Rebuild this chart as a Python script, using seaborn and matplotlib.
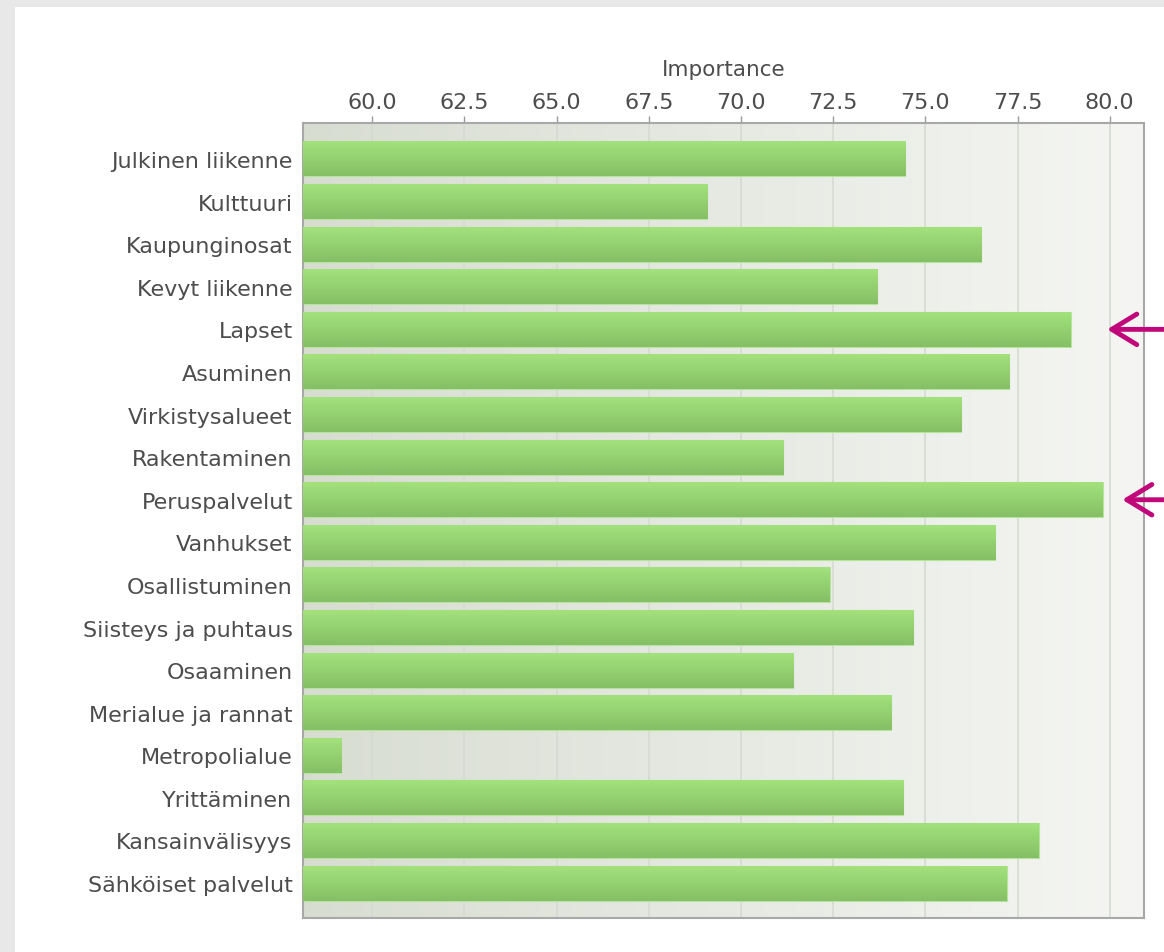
import numpy as np
import pandas as pd
import matplotlib
matplotlib.use("Agg")
import matplotlib.pyplot as plt
import seaborn as sns
from matplotlib.colors import LinearSegmentedColormap
from matplotlib.patches import Rectangle

categories = ["Julkinen liikenne", "Kulttuuri", "Kaupunginosat", "Kevyt liikenne",
              "Lapset", "Asuminen", "Virkistysalueet", "Rakentaminen",
              "Peruspalvelut", "Vanhukset", "Osallistuminen", "Siisteys ja puhtaus",
              "Osaaminen", "Merialue ja rannat", "Metropolialue", "Yrittäminen",
              "Kansainvälisyys", "Sähköiset palvelut"]
importance = [74.45, 69.09, 76.51, 73.69, 78.94, 77.27, 75.97, 71.15,
              79.81, 76.89, 72.40, 74.67, 71.42, 74.07, 59.16, 74.40,
              78.08, 77.21]
ticks = [60.0, 62.5, 65.0, 67.5, 70.0, 72.5, 75.0, 77.5, 80.0]
highlighted = ["Lapset", "Peruspalvelut"]
arrow_tips = [79.93, 80.34]

df = pd.DataFrame({"category": categories, "importance": importance})

sns.set_style("white")
plt.rcParams["font.family"] = ["DejaVu Sans"]
text_color = "#4d4d4d"

fig = plt.figure(figsize=(11.64, 9.53), dpi=100)
fig.patch.set_facecolor("white")
# grey frame around the panel
fig.patches.append(Rectangle((0, 0), 15 / 1164, 1, transform=fig.transFigure,
                             facecolor="#e8e8e8", edgecolor="none", zorder=-1))
fig.patches.append(Rectangle((0, 1 - 8 / 953), 1, 8 / 953, transform=fig.transFigure,
                             facecolor="#e8e8e8", edgecolor="none", zorder=-1))

ax = fig.add_axes([303 / 1164, 1 - 919 / 953, (1144 - 303) / 1164, (919 - 124) / 953])

sns.barplot(data=df, x="importance", y="category", orient="h", color="#94d46e",
            width=0.82, ax=ax, zorder=2)

xlim = (58.12, 80.93)
ylim = (len(categories) - 1 + 0.82, -0.845)
ax.set_xlim(*xlim)
ax.set_ylim(*ylim)

# background gradient
bg = LinearSegmentedColormap.from_list("bg", ["#d8ddd2", "#f5f6f3"])
ax.imshow(np.linspace(0, 1, 256).reshape(1, -1), cmap=bg, aspect="auto",
          extent=[xlim[0], xlim[1], ylim[0], ylim[1]], zorder=0)

# bar gradient, limited to the visible part of each bar
bar_cmap = LinearSegmentedColormap.from_list("bar", ["#a2e27c", "#86bf66"])
grad = np.linspace(0, 1, 64).reshape(-1, 1)
for p in ax.patches:
    x0, y0 = p.get_x(), p.get_y()
    w, h = p.get_width(), p.get_height()
    left = max(x0, xlim[0])
    ax.imshow(grad, cmap=bar_cmap, aspect="auto",
              extent=[left, x0 + w, y0 + h, y0], zorder=3)
    p.set_edgecolor("#b5e59a")
    p.set_linewidth(0.8)
ax.set_xlim(*xlim)
ax.set_ylim(*ylim)

ax.set_xticks(ticks)
ax.set_xticklabels([f"{t:.1f}" for t in ticks])
ax.xaxis.set_label_position("top")
ax.xaxis.tick_top()
ax.set_xlabel("Importance", fontsize=15.5, color=text_color, labelpad=12)
ax.set_ylabel("")
ax.grid(axis="x", color="#d6dad3", linewidth=1.2)
ax.set_axisbelow(True)
for gl in ax.get_xgridlines():
    gl.set_zorder(1)
ax.tick_params(axis="x", top=True, bottom=False, length=5, width=1, color="#999999",
               labelsize=16, labelcolor=text_color, pad=3)
ax.tick_params(axis="y", left=False, labelsize=16, labelcolor=text_color, pad=4)
for s in ax.spines.values():
    s.set_color("#a8a8a8")
    s.set_linewidth(1.5)

# arrows marking highlighted items
for name, tip in zip(highlighted, arrow_tips):
    i = categories.index(name)
    ax.annotate("", xy=(tip, i), xytext=(81.9, i), xycoords="data",
                arrowprops=dict(arrowstyle="->, head_length=0.9, head_width=0.55",
                                color="#c0087a", lw=3.5, mutation_scale=20,
                                shrinkA=0, shrinkB=0),
                annotation_clip=False)

fig.savefig("out.png", dpi=100)
